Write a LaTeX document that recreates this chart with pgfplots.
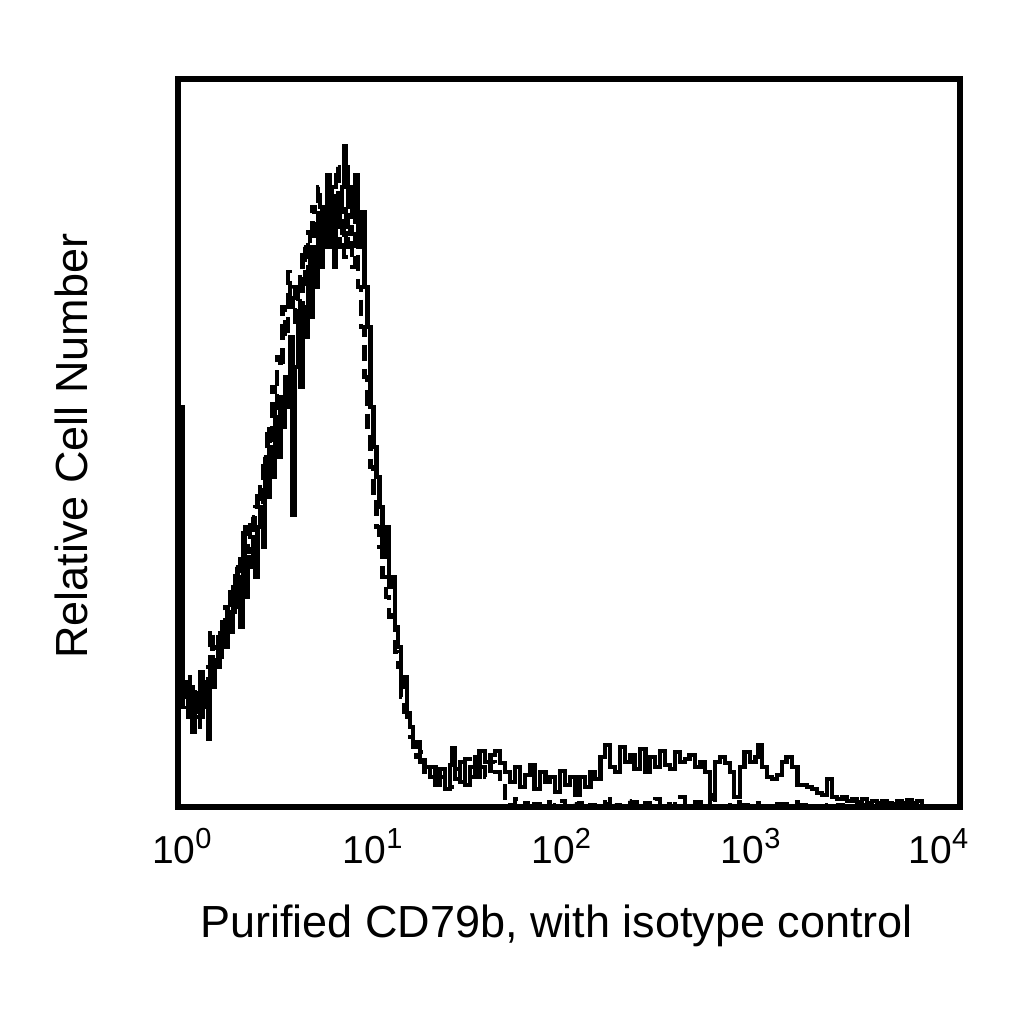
\documentclass[border=0pt]{standalone}
\usepackage{fontspec}
\setmainfont{Liberation Sans}
\usepackage{pgfplots}
\usepackage{pgfplotstable}
\pgfplotsset{compat=1.18}

% 10^k tick labels set in the text font
\newcommand{\dec}[1]{10\raisebox{7.5pt}{\fontsize{14.5}{14.5}\selectfont #1}}

% histograms: channel (0..1024 = 4 decades) vs. counts (arbitrary units)
\pgfplotstableread{
ch n
0 0
0 400
6 110
9 125
13 90
16 120
19 75
22 110
26 95
29 135
32 100
35 125
39 68
42 150
45 120
48 140
52 170
55 150
58 185
62 160
65 195
68 175
72 220
75 200
78 230
81 180
85 274
88 210
91 250
94 240
98 270
101 230
104 280
107 300
111 260
114 340
117 310
120 360
124 330
127 390
130 350
134 410
137 380
140 430
144 400
147 470
150 292
153 440
157 480
160 420
163 500
166 470
170 540
173 490
176 560
179 520
183 580
186 540
189 595
192 570
196 632
199 560
202 590
205 540
207 600
210 580
212 595
215 620
217 661
220 640
223 600
226 620
228 590
232 632
236 560
240 595
244 520
248 480
252 400
256 360
260 330
264 300
268 250
272 280
276 220
280 230
284 180
288 160
292 120
296 130
300 90
304 80
308 60
312 65
317 45
323 40
330 30
337 22
343 38
350 18
356 42
359 59
363 28
369 45
376 22
382 40
389 30
395 56
402 45
409 52
415 56
422 44
428 35
435 25
441 40
448 20
454 32
461 42
467 18
474 35
481 25
487 30
494 15
500 36
507 22
513 30
520 12
526 30
533 20
540 35
546 28
553 50
559 62
566 40
572 35
579 60
585 45
592 52
598 38
605 58
612 35
618 50
625 40
631 56
638 42
644 38
651 55
657 45
664 48
670 52
677 40
684 45
690 35
697 12
703 45
710 50
716 44
723 35
728 10
736 40
742 55
749 45
756 50
760 62
765 40
771 30
778 28
784 32
791 45
797 50
804 40
811 22
817 22
824 20
830 18
837 14
843 12
850 28
856 10
863 8
870 10
876 6
883 8
889 5
896 8
902 4
909 6
915 4
922 6
928 4
935 3
942 6
948 4
955 7
961 4
968 6
974 0
1024 0
}\cdtable

\pgfplotstableread{
ch n
0 0
0 390
6 100
9 120
13 130
16 85
19 115
22 90
26 120
29 80
32 125
35 105
39 140
42 177
45 130
48 160
52 140
55 180
58 165
62 200
65 180
68 215
72 190
75 240
78 215
81 255
85 230
88 280
91 255
94 290
98 260
101 300
104 320
107 290
111 350
114 320
117 380
120 350
124 420
127 390
130 450
134 440
137 500
140 470
144 535
147 500
150 520
153 480
157 530
160 500
163 560
166 520
170 575
173 540
176 600
179 560
183 620
186 580
189 600
192 560
196 610
199 590
202 620
205 580
207 640
210 600
212 560
215 590
217 550
220 600
223 560
226 580
228 540
232 590
236 520
240 480
244 430
248 380
252 340
256 310
260 280
264 260
268 230
272 210
276 190
280 195
284 155
288 140
292 110
296 95
300 100
304 70
308 65
312 50
317 55
323 35
330 40
337 25
343 30
350 35
356 20
363 38
369 25
376 48
382 30
389 50
395 40
402 30
409 45
415 35
422 25
428 5
435 2
441 8
448 0
454 4
461 0
467 3
474 0
481 5
487 0
494 2
500 6
507 0
513 3
520 0
526 4
533 0
540 2
546 0
553 5
559 3
566 8
572 2
579 0
585 6
592 2
598 5
605 0
612 4
618 2
625 8
631 0
638 3
644 0
651 8
657 10
664 3
670 0
677 5
684 3
690 2
697 8
703 3
710 0
723 5
736 2
749 4
760 0
784 3
804 5
811 2
830 0
850 2
870 0
900 2
930 0
1024 0
}\isotable

\begin{document}
\begin{tikzpicture}
\begin{axis}[
  at={(0,0)}, anchor=south west,
  scale only axis,
  width=391pt, height=364pt,
  xmin=0, xmax=1024,
  ymin=0, ymax=728,
  axis line style={line width=3pt},
  major tick length=0pt,
  ytick=\empty,
  xtick={5,255,502,750,996},
  xticklabels={\dec{0},\dec{1},\dec{2},\dec{3},\dec{4}},
  xticklabel style={font=\fontsize{19.5}{20}\selectfont, anchor=base, yshift=-28pt},
  label style={font=\fontsize{22.5}{24}\selectfont},
  xlabel={Purified CD79b, with isotype control},
  xlabel style={at={(axis description cs:0.484,-0.1799)}, anchor=base},
  ylabel={Relative Cell Number},
  ylabel style={at={(axis description cs:-0.1151,0.4959)}, anchor=base, rotate=0},
]
\addplot[const plot, black, line width=2.2pt, dash pattern=on 8pt off 4pt] table[x=ch, y=n] {\isotable};
\addplot[const plot, black, line width=2.2pt] table[x=ch, y=n] {\cdtable};
\end{axis}
\pgfresetboundingbox
\path[use as bounding box] (-89pt,-108.5pt) rectangle (423pt,403.5pt);
\end{tikzpicture}
\end{document}
